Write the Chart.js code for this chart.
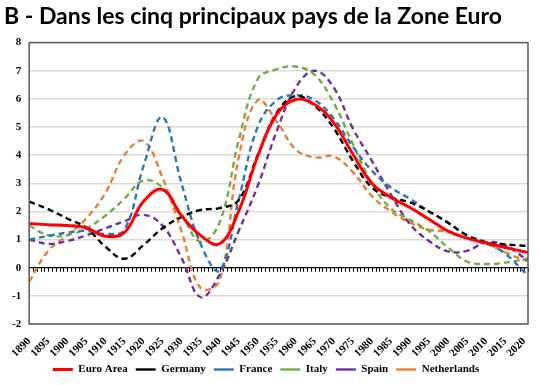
<!DOCTYPE html>
<html><head><meta charset="utf-8">
<script src="https://cdn.jsdelivr.net/npm/chart.js@4"></script>
<style>html,body{margin:0;padding:0;background:#fff}#wrap{width:539px;height:385px}</style>
</head><body><div id="wrap"><canvas id="c" width="539" height="385"></canvas></div>
<script>
const titleText = 'B - Dans les cinq principaux pays de la Zone Euro';
const seriesNames = ['Euro Area', 'Germany', 'France', 'Italy', 'Spain', 'Netherlands'];
const years = [1890,1895,1900,1905,1910,1915,1920,1925,1930,1935,1940,1945,1950,1955,1960,1965,1970,1975,1980,1985,1990,1995,2000,2005,2010,2015,2020,2021];
const tickYears = [1890,1895,1900,1905,1910,1915,1920,1925,1930,1935,1940,1945,1950,1955,1960,1965,1970,1975,1980,1985,1990,1995,2000,2005,2010,2015,2020];
const yTicks = [-2,-1,0,1,2,3,4,5,6,7,8];

const euroArea    = [1.57,1.53,1.50,1.42,1.12,1.25,2.35,2.78,1.85,1.15,0.85,2.0,3.95,5.45,5.98,5.8,5.15,4.04,3.0,2.5,2.14,1.72,1.3,1.05,0.88,0.72,0.57,0.54];
const germany     = [2.35,2.08,1.75,1.42,0.75,0.32,0.8,1.4,1.8,2.05,2.12,2.4,4.0,5.5,6.1,5.75,4.95,3.8,2.85,2.5,2.32,2.0,1.6,1.15,0.9,0.83,0.78,0.77];
const france      = [1.0,1.13,1.25,1.31,1.2,1.35,3.6,5.35,3.0,0.85,-0.1,2.4,5.0,5.95,6.13,5.95,5.3,4.3,3.45,2.85,2.45,2.0,1.6,1.15,0.9,0.5,-0.15,-0.3];
const italy       = [1.5,1.15,1.15,1.4,1.85,2.45,3.1,2.85,1.9,0.92,1.6,4.5,6.7,7.05,7.15,6.85,5.85,4.4,3.0,2.1,1.7,1.3,0.72,0.22,0.13,0.18,0.3,0.33];
const spain       = [1.0,0.85,0.95,1.15,1.4,1.65,1.88,1.5,0.35,-1.05,-0.25,1.3,2.9,4.85,6.4,7.0,6.4,4.95,3.8,2.6,1.55,0.95,0.58,0.6,0.9,0.8,0.35,0.25];
const netherlands = [-0.5,0.6,1.15,1.75,2.65,4.0,4.5,3.2,1.3,-0.72,-0.45,3.9,5.95,5.2,4.2,3.92,3.95,3.4,2.55,2.0,1.6,1.35,1.28,1.05,0.85,0.55,0.27,0.25];

const allSeries = [euroArea, germany, france, italy, spain, netherlands];
const colors = ['#ff0000', '#000000', '#2e75b6', '#70ad47', '#7030a0', '#ed7d31'];
const dashes = [[], [6,4], [6,4], [6,4], [6,4], [6,4]];
const widths = [3, 2.4, 2.4, 2.4, 2.4, 2.4];

const serif = '"Liberation Serif", "Times New Roman", serif';

const framePlugin = {
  id: 'frame',
  beforeDatasetsDraw(chart) {
    const {ctx, scales: {x, y}} = chart;
    const y0 = y.getPixelForValue(0);
    ctx.save();
    ctx.strokeStyle = '#000';
    ctx.lineWidth = 1;
    ctx.beginPath();
    for (let yr = 1890; yr <= 2021; yr++) {
      const px = Math.round(x.getPixelForValue(yr)) + 0.5;
      ctx.moveTo(px, y0);
      ctx.lineTo(px, y0 + 4);
    }
    ctx.stroke();
    ctx.restore();
  },
  afterDraw(chart) {
    const {ctx, chartArea: a} = chart;
    ctx.save();
    ctx.strokeStyle = '#595959';
    ctx.lineWidth = 1.5;
    ctx.strokeRect(a.left, a.top, a.right - a.left, a.bottom - a.top);
    ctx.restore();
  }
};

new Chart(document.getElementById('c'), {
  type: 'line',
  data: {
    datasets: seriesNames.map((name, i) => ({
      label: name,
      data: years.map((yr, j) => ({x: yr, y: allSeries[i][j]})),
      borderColor: colors[i],
      backgroundColor: colors[i],
      borderWidth: widths[i],
      borderDash: dashes[i],
      pointRadius: 0,
      pointStyle: 'line',
      tension: 0.4,
      fill: false
    }))
  },
  options: {
    responsive: false,
    animation: false,
    devicePixelRatio: 1,
    layout: {padding: {left: 4, right: 11, top: 0, bottom: 0}},
    plugins: {
      title: {
        display: true,
        text: titleText,
        align: 'start',
        color: '#000',
        font: {family: 'Lato, "Open Sans", sans-serif', size: 23, weight: 'bold'},
        padding: {top: 3, bottom: 12}
      },
      legend: {
        position: 'bottom',
        labels: {
          usePointStyle: true,
          pointStyle: 'line',
          pointStyleWidth: 20,
          color: '#000',
          font: {family: serif, size: 11, weight: 'bold'},
          padding: 8
        }
      },
      tooltip: {enabled: false}
    },
    scales: {
      x: {
        type: 'linear',
        min: 1890,
        max: 2021,
        grid: {display: false},
        border: {display: false},
        afterBuildTicks: s => { s.ticks = tickYears.map(v => ({value: v})); },
        afterFit: s => { s.height = 32; },
        ticks: {
          autoSkip: false,
          minRotation: 45,
          maxRotation: 45,
          padding: 3,
          color: '#000',
          font: {family: serif, size: 11, weight: 'bold'},
          callback: v => String(v)
        }
      },
      y: {
        min: -2,
        max: 8,
        afterBuildTicks: s => { s.ticks = yTicks.map(v => ({value: v})); },
        grid: {
          color: c => (c.tick && c.tick.value === 0) ? '#000' : '#d9d9d9',
          lineWidth: c => (c.tick && c.tick.value === 0) ? 1.2 : 1.5,
          drawTicks: false
        },
        border: {display: false},
        ticks: {
          padding: 8,
          color: '#000',
          font: {family: serif, size: 11, weight: 'bold'},
          callback: v => String(v)
        }
      }
    }
  },
  plugins: [framePlugin]
});
</script>
</body></html>
